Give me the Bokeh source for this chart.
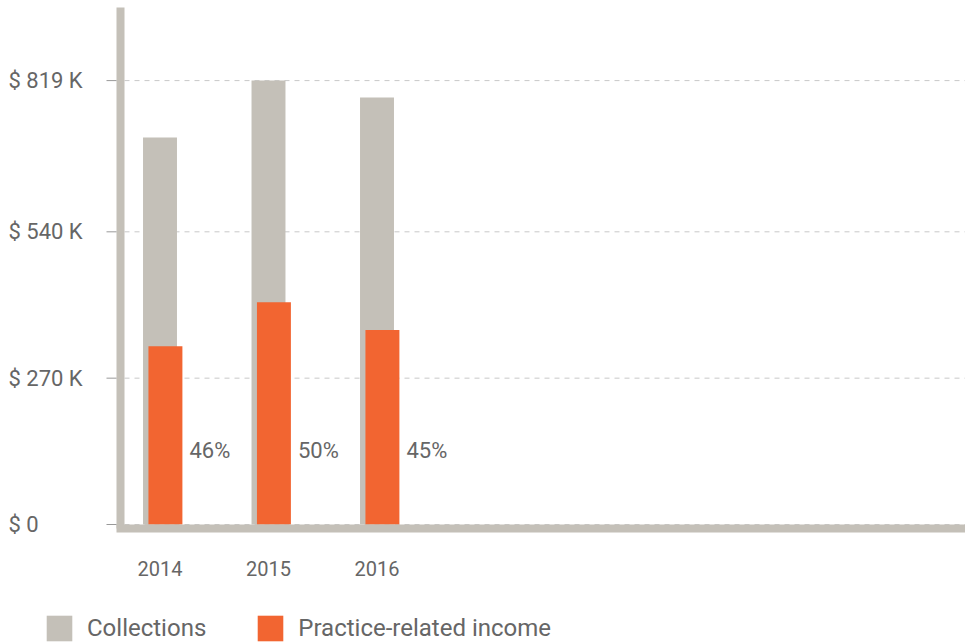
from bokeh.plotting import figure
from bokeh.models import Range1d, Legend, LegendItem, ColumnDataSource
from bokeh.embed import file_html
from bokeh.resources import INLINE
from bokeh.core.properties import value

# ---- data ----
years = [2014, 2015, 2016]
year_labels = ["2014", "2015", "2016"]
collections = [714, 819, 788]          # $ thousands
practice_income = [329, 410, 359]      # $ thousands
pct_labels = ["46%", "50%", "45%"]
y_ticks = [0, 270, 540, 819]
y_tick_labels = ["$ 0", "$ 270 K", "$ 540 K", "$ 819 K"]
pct_label_level = 137                  # $ thousands (height of the % labels)

# ---- styles / layout (pixels) ----
W, H = 965, 642
GRAY = "#c4c0b8"
ORANGE = "#f26531"
TEXT = "#666666"
FONT = "Roboto"
PX_PER_YEAR = 108.5
FIRST_YEAR_PX = 159.5
PX_PER_K = 0.542
ZERO_PX = 524

X0 = years[0] - FIRST_YEAR_PX / PX_PER_YEAR


def xd(px):
    return X0 + px / PX_PER_YEAR


def yd(py):
    return (ZERO_PX - py) / PX_PER_K


p = figure(width=W, height=H,
           x_range=Range1d(X0, X0 + W / PX_PER_YEAR),
           y_range=Range1d(-(H - ZERO_PX) / PX_PER_K, ZERO_PX / PX_PER_K),
           x_axis_location=None, y_axis_location=None,
           output_backend="svg", toolbar_location=None, min_border=0)
p.outline_line_color = None
p.background_fill_color = "white"
p.border_fill_color = "white"
for g in p.grid:
    g.visible = False

n = len(y_ticks)
# dashed grid lines
p.segment(x0=[xd(124)] * n, y0=y_ticks, x1=[xd(W)] * n, y1=y_ticks,
          line_color="#c8c8c8", line_dash="5 5", line_width=1)

src = ColumnDataSource(dict(
    x=years,
    x_or=[y + 0.05 for y in years],
    coll=collections,
    inc=practice_income,
    pct=pct_labels,
    pct_y=[pct_label_level] * len(years),
))

r_gray = p.vbar(x="x", top="coll", bottom=0, width=0.313, source=src,
                fill_color=GRAY, line_color=None)
r_or = p.vbar(x="x_or", top="inc", bottom=0, width=0.313, source=src,
              fill_color=ORANGE, line_color=None)

p.text(x="x_or", y="pct_y", text="pct", source=src, x_offset=24,
       text_align="left", text_baseline="middle",
       text_font=value(FONT), text_font_size="22px", text_color=TEXT)

# axis rules
p.segment(x0=[xd(120)], y0=[yd(7)], x1=[xd(120)], y1=[yd(528)],
          line_color=GRAY, line_width=8, line_cap="butt")
p.segment(x0=[xd(116)], y0=[yd(528)], x1=[xd(W)], y1=[yd(528)],
          line_color=GRAY, line_width=8, line_cap="butt")
# y ticks
p.segment(x0=[xd(106)] * n, y0=y_ticks, x1=[xd(116)] * n, y1=y_ticks,
          line_color="#999999", line_width=1)

# y tick labels
p.text(x=[xd(8)] * n, y=y_ticks, text=y_tick_labels,
       text_align="left", text_baseline="middle",
       text_font=value(FONT), text_font_size="22px", text_color=TEXT)

# year labels
p.text(x=years, y=[yd(568)] * len(years), text=year_labels,
       text_align="center", text_baseline="middle",
       text_font=value(FONT), text_font_size="20px", text_color=TEXT)

legend = Legend(items=[LegendItem(label=value("Collections"), renderers=[r_gray]),
                       LegendItem(label=value("Practice-related income"), renderers=[r_or])],
                location=(43, -2), orientation="horizontal",
                glyph_width=32, glyph_height=32, label_height=32,
                label_standoff=12, spacing=48, padding=0, margin=0,
                border_line_color=None, background_fill_alpha=0,
                label_text_font=FONT, label_text_font_size="24px",
                label_text_color=TEXT)
p.add_layout(legend)

open("out.html", "w").write(file_html(p, INLINE))
